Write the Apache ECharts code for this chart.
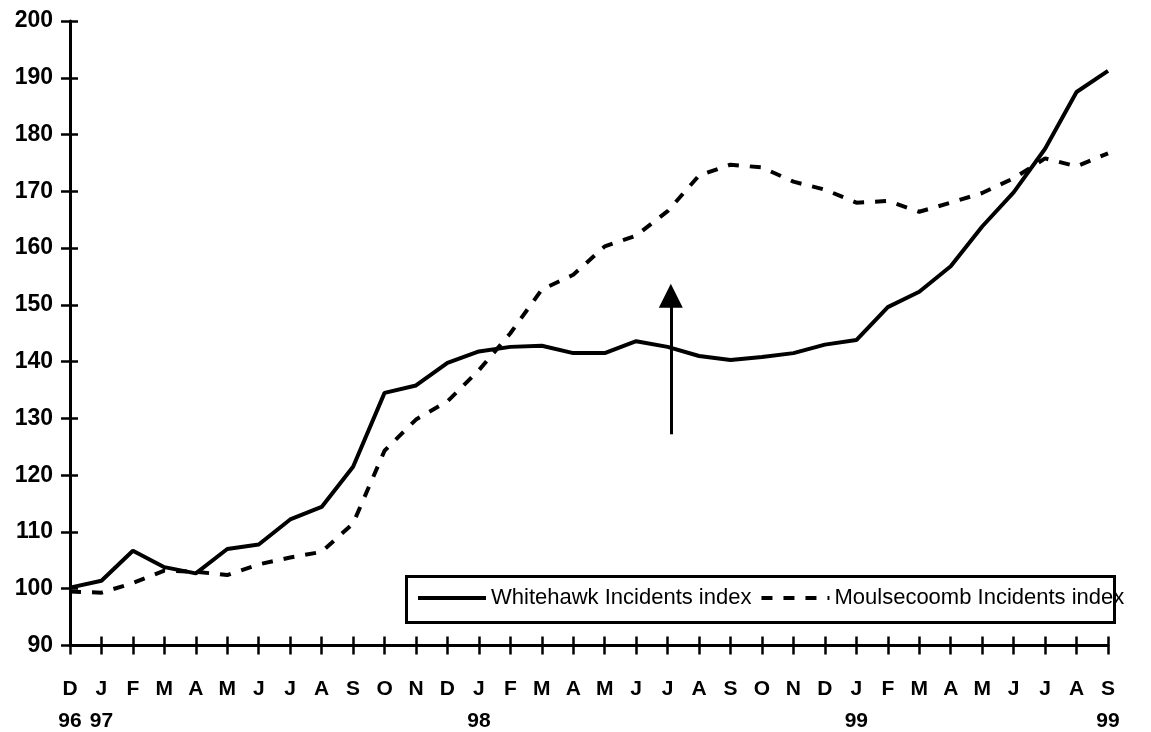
<!DOCTYPE html>
<html>
<head>
<meta charset="utf-8">
<script src="https://cdn.jsdelivr.net/npm/echarts@6/dist/echarts.min.js"></script>
<style>
html,body{margin:0;padding:0;background:#fff;}
#chart{width:1151px;height:732px;}
</style>
</head>
<body>
<div id="chart"></div>
<script>
// Month letters (Dec 1996 .. Sep 1999)
var months = ['D','J','F','M','A','M','J','J','A','S','O','N','D','J','F','M','A','M','J','J','A','S','O','N','D','J','F','M','A','M','J','J','A','S'];
// Year labels under month letters
var years = ['96','97','','','','','','','','','','','','98','','','','','','','','','','','','99','','','','','','','','99'];
// Y-axis ticks
var yTicks = [90,100,110,120,130,140,150,160,170,180,190,200];
// Series
var whitehawk = [100.2,101.4,106.7,103.8,102.7,107.0,107.8,112.2,114.4,121.5,134.5,135.8,139.8,141.8,142.6,142.8,141.5,141.5,143.6,142.6,141.0,140.3,140.8,141.5,143.0,143.8,149.6,152.3,156.8,163.8,169.8,177.5,187.5,191.2];
var moulsecoomb = [99.5,99.3,101.0,103.2,103.0,102.4,104.3,105.5,106.5,111.5,124.3,129.8,133.0,138.5,145.0,152.7,155.3,160.3,162.2,166.5,172.8,174.7,174.2,171.7,170.3,168.0,168.3,166.4,168.0,169.7,172.3,175.8,174.4,176.7];
var seriesNames = ['Whitehawk Incidents index','Moulsecoomb Incidents index'];
// Arrow annotation: [x index, y start, y end]
var arrowX = 19.1, arrowFrom = 127.2, arrowTo = 151.6;

function pairs(arr){ return arr.map(function(v,i){ return [i, v]; }); }

var chart = echarts.init(document.getElementById('chart'), null, {renderer:'canvas'});
var black = '#000';
var font = 'Liberation Sans, Arial, Helvetica, sans-serif';

var option = {
  animation: false,
  backgroundColor: '#fff',
  grid: { left: 70, right: 43, top: 21, bottom: 85.5, containLabel: false },
  legend: {
    left: 416, top: 587, padding: 0,
    itemWidth: 68, itemHeight: 14, itemGap: 8,
    data: seriesNames,
    itemStyle: { opacity: 0 },
    lineStyle: { width: 4 },
    textStyle: { fontFamily: font, fontSize: 22, color: black, lineHeight: 22 },
    selectedMode: false
  },
  graphic: [{
    type: 'rect', left: 404, top: 574, z: 5, silent: true,
    shape: { width: 708, height: 46 },
    style: { fill: 'none', stroke: black, lineWidth: 3 }
  }],
  xAxis: [{
    type: 'value', min: 0, max: months.length - 1, interval: 1,
    axisLine: { show: true, onZero: false, lineStyle: { color: black, width: 3 } },
    axisTick: { show: true, inside: false, length: 9, lineStyle: { color: black, width: 2.5 } },
    splitLine: { show: false },
    axisLabel: {
      margin: 32,
      formatter: function(v){
        var i = Math.round(v);
        var s = '{m|' + months[i] + '}';
        if (years[i]) s += '\n{y|' + years[i] + '}';
        return s;
      },
      rich: {
        m: { fontFamily: font, fontSize: 21, fontWeight: 'bold', color: black, lineHeight: 24 },
        y: { fontFamily: font, fontSize: 21, fontWeight: 'bold', color: black, lineHeight: 40 }
      }
    }
  },{
    type: 'value', min: 0, max: months.length - 1, interval: 1, position: 'bottom',
    axisLine: { show: false },
    axisTick: { show: true, inside: true, length: 9, lineStyle: { color: black, width: 2.5 } },
    axisLabel: { show: false }, splitLine: { show: false }
  }],
  yAxis: [{
    type: 'value', min: yTicks[0], max: yTicks[yTicks.length-1], interval: 10,
    axisLine: { show: true, onZero: false, lineStyle: { color: black, width: 3 } },
    axisTick: { show: true, inside: false, length: 9, lineStyle: { color: black, width: 2.5 } },
    splitLine: { show: false },
    axisLabel: { margin: 17, fontFamily: font, fontSize: 23, fontWeight: 'bold', color: black }
  },{
    type: 'value', min: yTicks[0], max: yTicks[yTicks.length-1], interval: 10, position: 'left',
    axisLine: { show: false },
    axisTick: { show: true, inside: true, length: 8, lineStyle: { color: black, width: 2.5 } },
    axisLabel: { show: false }, splitLine: { show: false }
  }],
  series: [{
    name: seriesNames[0], type: 'line', xAxisIndex: 0, yAxisIndex: 0,
    data: pairs(whitehawk), symbol: 'none', smooth: false,
    lineStyle: { color: black, width: 4, type: 'solid' },
    itemStyle: { color: black }
  },{
    name: seriesNames[1], type: 'line', xAxisIndex: 0, yAxisIndex: 0,
    data: pairs(moulsecoomb), symbol: 'none', smooth: false,
    lineStyle: { color: black, width: 4, type: [11, 11] },
    itemStyle: { color: black }
  },{
    name: 'arrow', type: 'line', xAxisIndex: 0, yAxisIndex: 0,
    data: [], symbol: 'none', silent: true,
    markLine: {
      silent: true, animation: false,
      symbol: ['none', 'triangle'], symbolSize: 24,
      label: { show: false },
      lineStyle: { color: black, width: 3, type: 'solid' },
      itemStyle: { color: black },
      data: [[ { coord: [arrowX, arrowFrom] }, { coord: [arrowX, arrowTo] } ]]
    }
  }]
};
chart.setOption(option);
</script>
</body>
</html>
